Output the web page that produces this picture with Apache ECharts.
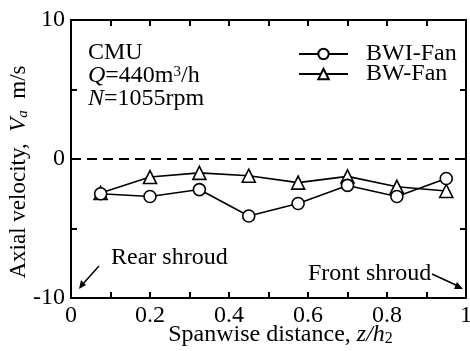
<!DOCTYPE html>
<html>
<head>
<meta charset="utf-8">
<script src="https://cdn.jsdelivr.net/npm/echarts@6/dist/echarts.min.js"></script>
<style>
  html, body { margin: 0; padding: 0; background: #fff; }
  #chart { width: 470px; height: 351px; }
</style>
</head>
<body>
<div id="chart"></div>
<script>
// Spanwise positions (z/h2) of the measuring points
const spanwise = [0.075, 0.2, 0.325, 0.45, 0.575, 0.7, 0.825, 0.95];
// Axial velocity Va (m/s) for each fan
const bwiFan = [-2.5, -2.7, -2.2, -4.1, -3.2, -1.9, -2.7, -1.4];
const bwFan = [-2.45, -1.3, -1.0, -1.2, -1.7, -1.25, -2.0, -2.3];
// Labelled ticks
const xTickLabels = [0, 0.2, 0.4, 0.6, 0.8, 1];
const yTickLabels = [10, 0, -10];

const FONT = '"Liberation Serif", "Times New Roman", serif';
const FS = 24;

const chart = echarts.init(document.getElementById('chart'), null, { renderer: 'canvas' });

function pairs(xs, ys) { return xs.map((x, i) => [x, ys[i]]); }
function near(v, list) { return list.some(t => Math.abs(t - v) < 1e-6); }

const frameLine = { show: true, onZero: false, lineStyle: { color: '#000', width: 2 } };
const tickIn = { show: true, inside: true, length: 6, lineStyle: { color: '#000', width: 2 } };

const option = {
  animation: false,
  backgroundColor: '#fff',
  textStyle: { fontFamily: FONT, color: '#000' },
  grid: { left: 71, right: 4, top: 20, bottom: 53, containLabel: false, outerBoundsMode: 'none' },
  legend: {
    left: 293, top: 37, orient: 'vertical',
    itemWidth: 49, itemHeight: 13, itemGap: -4,
    textStyle: { fontFamily: FONT, fontSize: FS, color: '#000', padding: [0, 0, 0, 13] },
    data: ['BWI-Fan', 'BW-Fan']
  },
  xAxis: [{
    type: 'value', min: 0, max: 1, interval: 0.1, position: 'bottom',
    axisLine: frameLine, axisTick: tickIn, splitLine: { show: false },
    axisLabel: {
      fontFamily: FONT, fontSize: FS, color: '#000', margin: 6,
      formatter: v => near(v, xTickLabels) ? String(+v.toFixed(1)) : ''
    },
    name: 'Spanwise distance, {i|z/h}{sub|2}',
    nameLocation: 'middle', nameGap: 24, nameMoveOverlap: false,
    nameTextStyle: {
      fontFamily: FONT, fontSize: FS, color: '#000', padding: [0, 0, 0, 24],
      rich: {
        i: { fontFamily: FONT, fontSize: FS, fontStyle: 'italic', color: '#000' },
        sub: { fontFamily: FONT, fontSize: 16, color: '#000', padding: [9, 0, 0, 0] }
      }
    }
  }, {
    type: 'value', min: 0, max: 1, interval: 0.1, position: 'top',
    axisLine: frameLine, axisTick: tickIn, axisLabel: { show: false }, splitLine: { show: false }
  }],
  yAxis: [{
    type: 'value', min: -10, max: 10, interval: 5, position: 'left',
    axisLine: frameLine, axisTick: tickIn, splitLine: { show: false },
    axisLabel: {
      fontFamily: FONT, fontSize: FS, color: '#000', margin: 6,
      formatter: v => near(v, yTickLabels) ? String(v) : ''
    },
    name: 'Axial velocity,  {i|V}{sub|a}  m/s',
    nameLocation: 'middle', nameGap: 40, nameRotate: 90, nameMoveOverlap: false,
    nameTextStyle: {
      fontFamily: FONT, fontSize: 23, color: '#000', padding: [0, 26, 0, 0],
      rich: {
        i: { fontFamily: FONT, fontSize: 23, fontStyle: 'italic', color: '#000' },
        sub: { fontFamily: FONT, fontSize: 15, fontStyle: 'italic', color: '#000', padding: [9, 0, 0, 0] }
      }
    }
  }, {
    type: 'value', min: -10, max: 10, interval: 5, position: 'right',
    axisLine: frameLine, axisTick: tickIn, axisLabel: { show: false }, splitLine: { show: false }
  }],
  series: [{
    name: 'BWI-Fan', type: 'line', data: pairs(spanwise, bwiFan),
    symbol: 'circle', symbolSize: 12, showAllSymbol: true,
    lineStyle: { color: '#000', width: 1.6 },
    itemStyle: { color: '#fff', borderColor: '#000', borderWidth: 1.6 },
    z: 3,
    markLine: {
      silent: true, symbol: 'none', label: { show: false },
      lineStyle: { color: '#000', width: 2, type: [10, 6] },
      data: [{ yAxis: 0 }]
    }
  }, {
    name: 'BW-Fan', type: 'line', data: pairs(spanwise, bwFan),
    symbol: 'triangle', symbolSize: 13, showAllSymbol: true,
    lineStyle: { color: '#000', width: 1.6 },
    itemStyle: { color: '#fff', borderColor: '#000', borderWidth: 1.6 },
    z: 2
  }],
  graphic: [
    {
      type: 'text', left: 88, top: 41,
      style: {
        text: 'CMU\n{i|Q}=440m{sup|3}/h\n{i|N}=1055rpm',
        font: FS + 'px ' + FONT, fill: '#000', lineHeight: 23,
        rich: {
          i: { font: 'italic ' + FS + 'px ' + FONT, fill: '#000', lineHeight: 23 },
          sup: { font: '15px ' + FONT, fill: '#000', verticalAlign: 'top', lineHeight: 23, padding: [0, 0, 8, 0] }
        }
      }
    },
    { type: 'text', left: 111, top: 246, style: { text: 'Rear shroud', font: FS + 'px ' + FONT, fill: '#000' } },
    { type: 'text', left: 308, top: 262, style: { text: 'Front shroud', font: FS + 'px ' + FONT, fill: '#000' } },
    // pointer arrows toward the shrouds
    { type: 'line', shape: { x1: 99, y1: 266, x2: 82, y2: 285 }, style: { stroke: '#000', lineWidth: 1.5 } },
    { type: 'polygon', shape: { points: [[79, 289], [81, 280], [86, 285]] }, style: { fill: '#000' } },
    { type: 'line', shape: { x1: 432, y1: 274, x2: 458, y2: 286 }, style: { stroke: '#000', lineWidth: 1.5 } },
    { type: 'polygon', shape: { points: [[463, 289], [454, 289], [457, 282]] }, style: { fill: '#000' } }
  ]
};

chart.setOption(option);
</script>
</body>
</html>
